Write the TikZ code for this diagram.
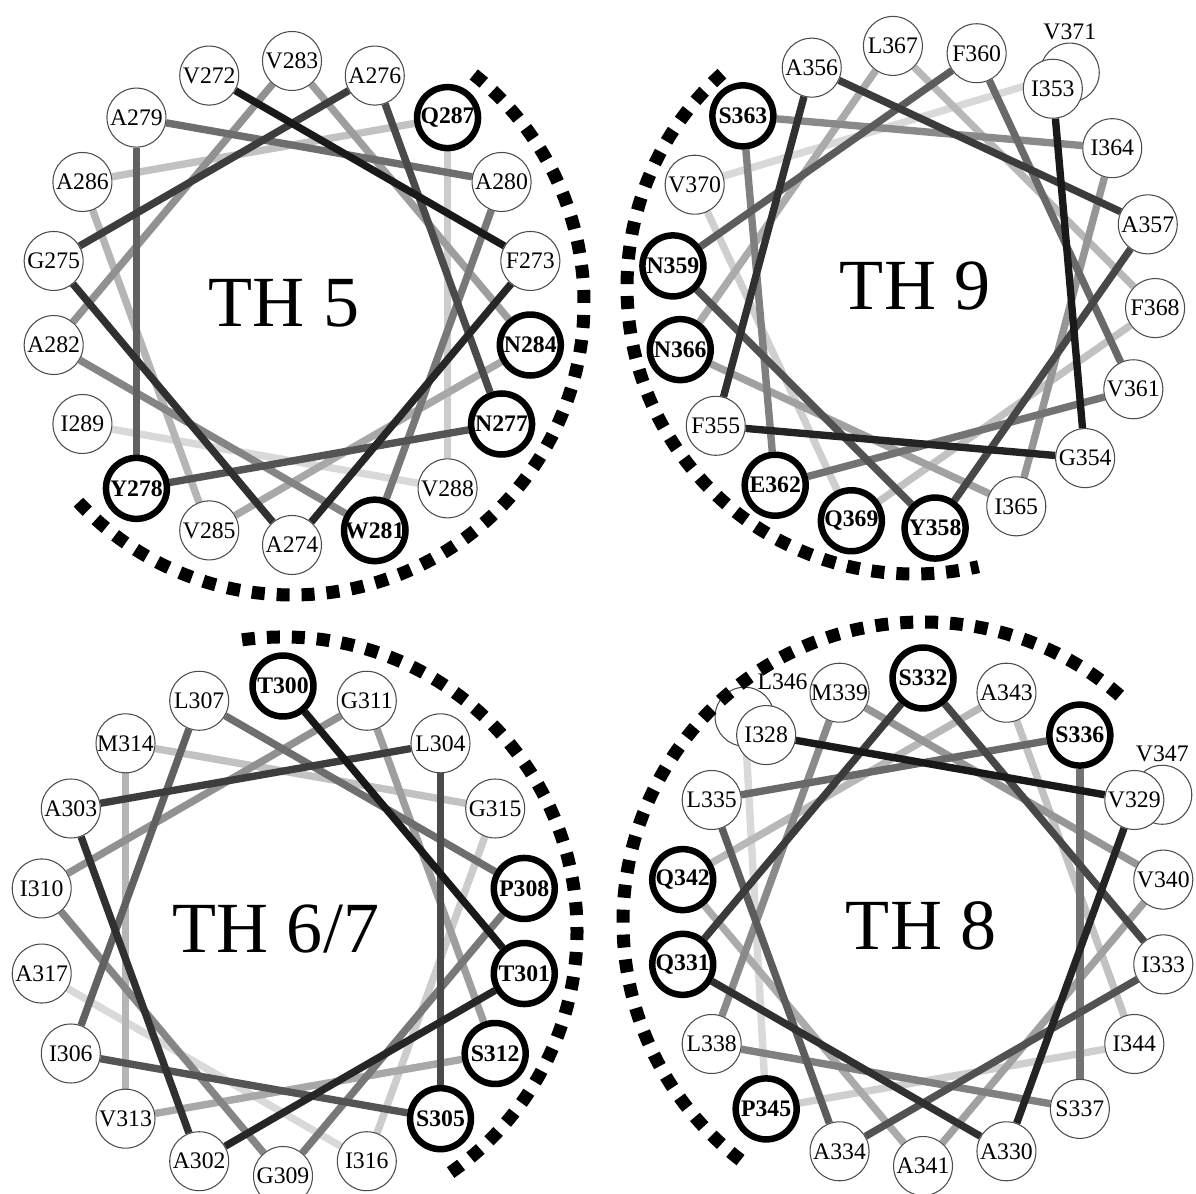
\documentclass[tikz,border=0pt]{standalone}
\usepackage{fontspec}
\setmainfont{Liberation Serif}
\usetikzlibrary{backgrounds}

\begin{document}
\begin{tikzpicture}[x=0.02cm,y=0.02cm,every node/.style={font=\fontsize{13.5}{15}\selectfont},
    res/.style={circle,draw=black!70,line width=0.6pt,fill=white,minimum size=1.18cm,inner sep=0pt},
    pol/.style={res,draw=black,line width=3.7pt,minimum size=1.22cm,font=\fontsize{13.5}{15}\selectfont\bfseries},
    bond/.style={line width=4.2pt},
    face/.style={line width=7.4pt,dash pattern=on 7.4pt off 6.8pt},
    helix/.style={font=\fontsize{41}{45}\selectfont}]
    \useasboundingbox (0,0) rectangle (1196,1193);

    % TH 5
    \begin{scope}[shift={(292,890)}]
        \node[res] (V272) at (110:242) {V272};
        \node[res] (F273) at (10:242) {F273};
        \node[res] (A274) at (270:242) {A274};
        \node[res] (G275) at (170:242) {G275};
        \node[res] (A276) at (70:242) {A276};
        \node[pol] (N277) at (330:242) {N277};
        \node[pol] (Y278) at (230:242) {Y278};
        \node[res] (A279) at (130:242) {A279};
        \node[res] (A280) at (30:242) {A280};
        \node[pol] (W281) at (290:242) {W281};
        \node[res] (A282) at (190:242) {A282};
        \node[res] (V283) at (90:242) {V283};
        \node[pol] (N284) at (350:242) {N284};
        \node[res] (V285) at (250:242) {V285};
        \node[res] (A286) at (150:242) {A286};
        \node[pol] (Q287) at (50:242) {Q287};
        \node[res] (V288) at (310:242) {V288};
        \node[res] (I289) at (210:242) {I289};
        \node[helix] (th5) at (-8,0) {TH 5};
        \draw[face] (51.5:292) arc[start angle=51.5,end angle=-137,radius=292];
        \begin{pgfonlayer}{background}
            \draw[bond,black!15] (V288) -- (I289);
            \draw[bond,black!20] (Q287) -- (V288);
            \draw[bond,black!24] (A286) -- (Q287);
            \draw[bond,black!29] (V285) -- (A286);
            \draw[bond,black!34] (N284) -- (V285);
            \draw[bond,black!38] (V283) -- (N284);
            \draw[bond,black!43] (A282) -- (V283);
            \draw[bond,black!48] (W281) -- (A282);
            \draw[bond,black!53] (A280) -- (W281);
            \draw[bond,black!57] (A279) -- (A280);
            \draw[bond,black!62] (Y278) -- (A279);
            \draw[bond,black!67] (N277) -- (Y278);
            \draw[bond,black!71] (A276) -- (N277);
            \draw[bond,black!76] (G275) -- (A276);
            \draw[bond,black!81] (A274) -- (G275);
            \draw[bond,black!85] (F273) -- (A274);
            \draw[bond,black!90] (V272) -- (F273);
        \end{pgfonlayer}
    \end{scope}

    % TH 9
    \begin{scope}[shift={(914,906)}]
        \node[res,label={[label distance=-2pt]above:V371}] (V371) at (54:265) {};
        \node[res] (I353) at (55:242) {I353};
        \node[res] (G354) at (315:242) {G354};
        \node[res] (F355) at (215:242) {F355};
        \node[res] (A356) at (115:242) {A356};
        \node[res] (A357) at (15:242) {A357};
        \node[pol] (Y358) at (275:242) {Y358};
        \node[pol] (N359) at (175:242) {N359};
        \node[res] (F360) at (75:242) {F360};
        \node[res] (V361) at (335:242) {V361};
        \node[pol] (E362) at (235:242) {E362};
        \node[pol] (S363) at (135:242) {S363};
        \node[res] (I364) at (35:242) {I364};
        \node[res] (I365) at (295:242) {I365};
        \node[pol] (N366) at (195:242) {N366};
        \node[res] (L367) at (95:242) {L367};
        \node[res] (F368) at (355:242) {F368};
        \node[pol] (Q369) at (255:242) {Q369};
        \node[res] (V370) at (155:242) {V370};
        \node[helix] (th9) at (1,1) {TH 9};
        \draw[face] (132:287) arc[start angle=132,end angle=283,radius=287];
        \begin{pgfonlayer}{background}
            \draw[bond,black!15] (V370) -- (V371);
            \draw[bond,black!19] (Q369) -- (V370);
            \draw[bond,black!24] (F368) -- (Q369);
            \draw[bond,black!28] (L367) -- (F368);
            \draw[bond,black!33] (N366) -- (L367);
            \draw[bond,black!37] (I365) -- (N366);
            \draw[bond,black!41] (I364) -- (I365);
            \draw[bond,black!46] (S363) -- (I364);
            \draw[bond,black!50] (E362) -- (S363);
            \draw[bond,black!55] (V361) -- (E362);
            \draw[bond,black!59] (F360) -- (V361);
            \draw[bond,black!64] (N359) -- (F360);
            \draw[bond,black!68] (Y358) -- (N359);
            \draw[bond,black!72] (A357) -- (Y358);
            \draw[bond,black!77] (A356) -- (A357);
            \draw[bond,black!81] (F355) -- (A356);
            \draw[bond,black!86] (G354) -- (F355);
            \draw[bond,black!90] (I353) -- (G354);
        \end{pgfonlayer}
    \end{scope}

    % TH 6/7
    \begin{scope}[shift={(283,262)}]
        \node[pol] (T300) at (90:245) {T300};
        \node[pol] (T301) at (350:245) {T301};
        \node[res] (A302) at (250:245) {A302};
        \node[res] (A303) at (150:245) {A303};
        \node[res] (L304) at (50:245) {L304};
        \node[pol] (S305) at (310:245) {S305};
        \node[res] (I306) at (210:245) {I306};
        \node[res] (L307) at (110:245) {L307};
        \node[pol] (P308) at (10:245) {P308};
        \node[res] (G309) at (270:245) {G309};
        \node[res] (I310) at (170:245) {I310};
        \node[res] (G311) at (70:245) {G311};
        \node[pol] (S312) at (330:245) {S312};
        \node[res] (V313) at (230:245) {V313};
        \node[res] (M314) at (130:245) {M314};
        \node[res] (G315) at (30:245) {G315};
        \node[res] (I316) at (290:245) {I316};
        \node[res] (A317) at (190:245) {A317};
        \node[helix] (th67) at (-7,2) {TH 6/7};
        \draw[face] (98:294) arc[start angle=98,end angle=-57,radius=294];
        \begin{pgfonlayer}{background}
            \draw[bond,black!15] (I316) -- (A317);
            \draw[bond,black!20] (G315) -- (I316);
            \draw[bond,black!24] (M314) -- (G315);
            \draw[bond,black!29] (V313) -- (M314);
            \draw[bond,black!34] (S312) -- (V313);
            \draw[bond,black!38] (G311) -- (S312);
            \draw[bond,black!43] (I310) -- (G311);
            \draw[bond,black!48] (G309) -- (I310);
            \draw[bond,black!53] (P308) -- (G309);
            \draw[bond,black!57] (L307) -- (P308);
            \draw[bond,black!62] (I306) -- (L307);
            \draw[bond,black!67] (S305) -- (I306);
            \draw[bond,black!71] (L304) -- (S305);
            \draw[bond,black!76] (A303) -- (L304);
            \draw[bond,black!81] (A302) -- (A303);
            \draw[bond,black!85] (T301) -- (A302);
            \draw[bond,black!90] (T300) -- (T301);
        \end{pgfonlayer}
    \end{scope}

    % TH 8
    \begin{scope}[shift={(923,271)}]
        \node[res,label={[xshift=0.76cm,yshift=0.7cm]center:L346}] (L346) at (131:272) {};
        \node[res,label={[label distance=-2pt]above:V347}] (V347) at (28:271) {};
        \node[res] (I328) at (130:244) {I328};
        \node[res] (V329) at (30:244) {V329};
        \node[res] (A330) at (290:244) {A330};
        \node[pol] (Q331) at (190:244) {Q331};
        \node[pol] (S332) at (90:244) {S332};
        \node[res] (I333) at (350:244) {I333};
        \node[res] (A334) at (250:244) {A334};
        \node[res] (L335) at (150:244) {L335};
        \node[pol] (S336) at (50:244) {S336};
        \node[res] (S337) at (310:244) {S337};
        \node[res] (L338) at (210:244) {L338};
        \node[res] (M339) at (110:244) {M339};
        \node[res] (V340) at (10:244) {V340};
        \node[res] (A341) at (270:244) {A341};
        \node[pol] (Q342) at (170:244) {Q342};
        \node[res] (A343) at (70:244) {A343};
        \node[res] (I344) at (330:244) {I344};
        \node[pol] (P345) at (230:244) {P345};
        \node[helix] (th8) at (-2,-4) {TH 8};
        \draw[face] (49:300) arc[start angle=49,end angle=234,radius=300];
        \begin{pgfonlayer}{background}
            \draw[bond,black!15] (P345) -- (L346);
            \draw[bond,black!19] (I344) -- (P345);
            \draw[bond,black!24] (A343) -- (I344);
            \draw[bond,black!28] (Q342) -- (A343);
            \draw[bond,black!33] (A341) -- (Q342);
            \draw[bond,black!37] (V340) -- (A341);
            \draw[bond,black!41] (M339) -- (V340);
            \draw[bond,black!46] (L338) -- (M339);
            \draw[bond,black!50] (S337) -- (L338);
            \draw[bond,black!55] (S336) -- (S337);
            \draw[bond,black!59] (L335) -- (S336);
            \draw[bond,black!64] (A334) -- (L335);
            \draw[bond,black!68] (I333) -- (A334);
            \draw[bond,black!72] (S332) -- (I333);
            \draw[bond,black!77] (Q331) -- (S332);
            \draw[bond,black!81] (A330) -- (Q331);
            \draw[bond,black!86] (V329) -- (A330);
            \draw[bond,black!90] (I328) -- (V329);
        \end{pgfonlayer}
    \end{scope}
\end{tikzpicture}
\end{document}
